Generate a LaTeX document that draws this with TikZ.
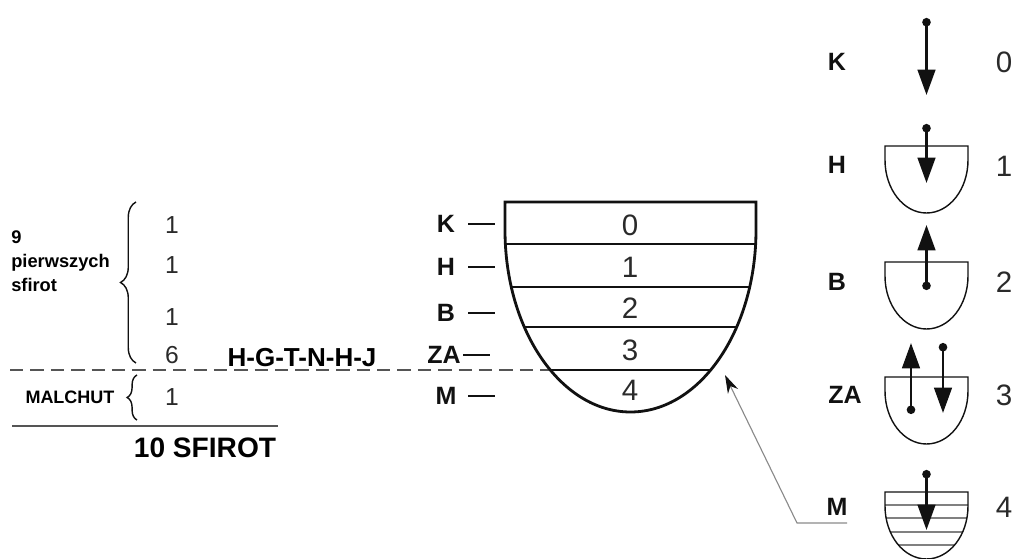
\documentclass[tikz,border=0pt]{standalone}
\usepackage{fontspec}
\setmainfont{Liberation Sans}
\usetikzlibrary{arrows.meta,decorations.pathreplacing}
\definecolor{Ink}{HTML}{111111}
\definecolor{DigitGray}{HTML}{2A2A2A}
\definecolor{RuleGray}{HTML}{555555}
\definecolor{HatchGray}{HTML}{808080}
\definecolor{PointerGray}{HTML}{8A8A8A}
\tikzset{
  digit/.style={font=\fontsize{21}{25}\selectfont,text=DigitGray,inner sep=0pt},
  count/.style={font=\fontsize{17.5}{20}\selectfont,text=DigitGray,inner sep=0pt},
  sfira/.style={font=\fontsize{17.8}{20}\selectfont\bfseries,text=Ink,inner sep=0pt},
  flow/.style={line width=1.9pt,Ink,{Circle[length=6pt]}-{Triangle[length=18pt,width=12.5pt]}},
}

\begin{document}
\begin{tikzpicture}[x=0.025cm,y=0.025cm]
  \useasboundingbox (0,0) rectangle (1015,559);
  \draw[line width=1.4pt,RuleGray,dash pattern=on 9.5pt off 5pt] (10,189) -- (550,189);
  \begin{scope}
    \clip (505,357) -- (505,329) arc[start angle=180,end angle=360,x radius=125.5,y radius=182] -- (756,357) -- cycle;
    \foreach \y in {315,272,232,189}
      \draw[line width=1.3pt,Ink] (500,\y) -- (760,\y);
  \end{scope}
  \draw[line width=2pt,Ink] (505,357) -- (505,329) arc[start angle=180,end angle=360,x radius=125.5,y radius=182] -- (756,357) -- cycle;
  \foreach \y [count=\i from 0] in {334,292,251,209,169}
    \node[digit] (v\i) at (630,\y) {\i};
  \foreach \y/\lab/\x/\d [count=\i] in {335/K/446/468,292/H/446/468,246/B/446/468,204/ZA/444/463,163/M/446/468}
    {
      \node[sfira] (s\i) at (\x,\y) {\lab};
      \draw[line width=1pt,Ink] (\d,\y) -- ++(27,0);
    }
  \foreach \y/\n [count=\i] in {334/1,294/1,242/1,204/6,162/1}
    \node[count] (c\i) at (172,\y) {\n};
  \draw[decorate,decoration={brace,amplitude=11pt},line width=1pt,Ink] (136,196) -- (136,357);
  \draw[decorate,decoration={brace,amplitude=7pt},line width=1pt,Ink] (137,139) -- (137,184);
  \node[font=\fontsize{13}{17.4}\selectfont\bfseries,align=left,anchor=north west,inner sep=0pt] (first9) at (11,329) {9\\pierwszych\\sfirot};
  \node[font=\fontsize{12.8}{14}\selectfont\bfseries,inner sep=0pt] (malchut) at (70,162) {MALCHUT};
  \draw[line width=1.4pt,RuleGray] (12,133) -- (278,133);
  \node[font=\fontsize{20}{24}\selectfont\bfseries,inner sep=0pt] (ten) at (205,111) {10 SFIROT};
  \node[font=\fontsize{18.5}{22}\selectfont\bfseries,inner sep=0pt] (hgt) at (302,201) {H-G-T-N-H-J};
  \begin{scope}
    \clip (885,67) -- (885,53) arc[start angle=180,end angle=360,x radius=41.5,y radius=53] -- (968,67) -- cycle;
    \foreach \y in {54,41,27,14}
      \draw[line width=1pt,HatchGray] (880,\y) -- (975,\y);
  \end{scope}
  \foreach \t in {413,297,182,67}
    \draw[line width=1pt,Ink] (885,\t) -- (885,\t-14) arc[start angle=180,end angle=360,x radius=41.5,y radius=53] -- (968,\t) -- cycle;
  \foreach \x/\a/\b in {926.5/541/464,926.5/435/376,926.5/269/334,911/145/216,943/216/146,926.5/89/29}
    \draw[flow] (\x,\a) -- (\x,\b);
  \foreach \y/\lab/\x [count=\i] in {497/K/837,394/H/837,277/B/837,164/ZA/845,52/M/837}
    \node[sfira] (r\i) at (\x,\y) {\lab};
  \foreach \y [count=\i from 0] in {497,393,277,164,52}
    \node[digit] (d\i) at (1004,\y) {\i};
  \coordinate (ptrtail) at (847,36);
  \coordinate (ptrbend) at (797,36);
  \coordinate (ptrtip) at (725,184);
  \draw[line width=0.8pt,PointerGray,-{Stealth[length=13pt,width=8pt,color=Ink]}] (ptrtail) -- (ptrbend) -- (ptrtip);
\end{tikzpicture}
\end{document}
